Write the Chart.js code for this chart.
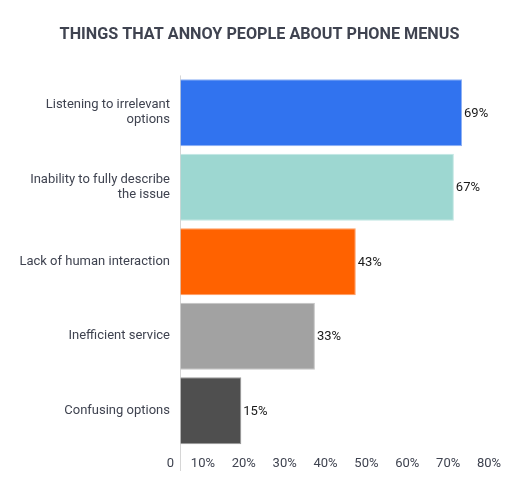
<!DOCTYPE html>
<html>
<head>
<meta charset="utf-8">
<title>Phone menus</title>
<script src="https://cdn.jsdelivr.net/npm/chart.js@4"></script>
<style>
  html, body { margin: 0; padding: 0; background: #fff; }
  #wrap { width: 531px; height: 482px; }
</style>
</head>
<body>
<div id="wrap"><canvas id="myChart" width="531" height="482"></canvas></div>
<script>
'use strict';

// *********** DATA ***********
let annoyLabels = [
  ['Listening to irrelevant', 'options'],
  ['Inability to fully describe', 'the issue'],
  'Lack of human interaction',
  'Inefficient service',
  'Confusing options'
];
let annoyPercent = [69, 67, 43, 33, 15];
let xTickValues = [0, 10, 20, 30, 40, 50, 60, 70, 80];

let barColors = ['#3173ef', '#9dd7d1', '#ff6200', '#a2a2a2', '#4f4f4f'];
let barBorders = ['#8fb1f5', '#c2e7e3', '#ff9c60', '#c4c4c4', '#9a9a9a'];

let ctx = document.getElementById('myChart').getContext('2d');

// ********** value labels at the bar ends *************
let valueLabels = {
  id: 'valueLabels',
  afterDatasetsDraw(chart) {
    let c = chart.ctx;
    let meta = chart.getDatasetMeta(0);
    c.save();
    c.font = '13px Roboto';
    c.fillStyle = '#1a1a1a';
    c.textAlign = 'left';
    c.textBaseline = 'middle';
    meta.data.forEach(function (bar, i) {
      c.fillText(annoyPercent[i] + '%', bar.x + 2, bar.y + 1);
    });
    c.restore();
  }
};

let myChartObj = {
  type: 'bar',
  data: {
    labels: annoyLabels,
    datasets: [{
      data: annoyPercent,
      backgroundColor: barColors,
      borderColor: barBorders,
      borderWidth: 1,
      categoryPercentage: 0.9,
      barPercentage: 1
    }]
  },
  options: {
    indexAxis: 'y',
    responsive: false,
    animation: false,
    layout: { padding: { left: 12, right: 24, top: 0, bottom: 0 } },
    scales: {
      x: {
        min: 0,
        max: 80,
        afterBuildTicks: function (scale) {
          scale.ticks = xTickValues.map(v => ({ value: v }));
        },
        afterFit: function (scale) {
          scale.height = 34;
        },
        border: { display: false },
        grid: {
          drawOnChartArea: true,
          drawTicks: true,
          tickLength: 23,
          color: c => (c.tick && c.tick.value === 0) ? '#d6d6d6' : 'rgba(0,0,0,0)'
        },
        ticks: {
          align: 'end',
          padding: -15,
          autoSkip: false,
          maxRotation: 0,
          color: '#3f4350',
          font: { family: 'Roboto', size: 13 },
          callback: v => (v === 0 ? '0' : v + '%') + ' \u2009'
        }
      },
      y: {
        afterFit: function (scale) {
          scale.width = 168;
        },
        border: { display: false },
        grid: { display: false, drawTicks: false },
        ticks: {
          padding: 10,
          color: '#3f4350',
          font: { family: 'Roboto', size: 13, lineHeight: 1.15 }
        }
      }
    },
    plugins: {
      legend: { display: false },
      tooltip: { enabled: false },
      title: {
        display: true,
        text: 'THINGS THAT ANNOY PEOPLE ABOUT PHONE MENUS',
        color: '#3f4350',
        font: { family: 'Roboto', size: 16.2, weight: 'bold' },
        padding: { top: 25, bottom: 31 }
      }
    }
  },
  plugins: [valueLabels]
};

const myChart = new Chart(ctx, myChartObj);
</script>
</body>
</html>
